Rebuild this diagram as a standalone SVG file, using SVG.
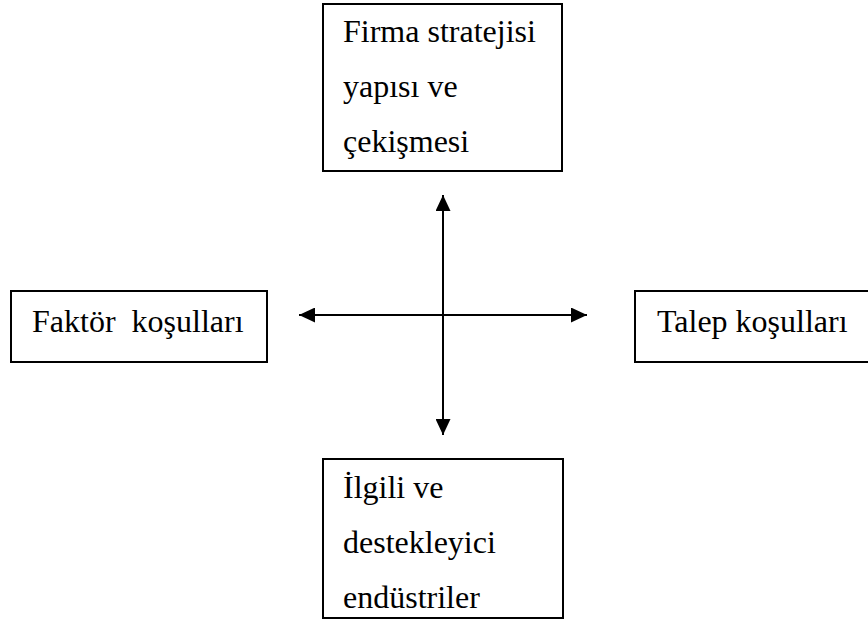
<svg xmlns="http://www.w3.org/2000/svg" width="868" height="630" viewBox="0 0 868 630">
<style>
.box{fill:#fff;stroke:#000;stroke-width:2}
.t{font-family:'Liberation Serif',serif;font-size:32px;fill:#000}
.c{stroke:#000;stroke-width:2;fill:none}
</style>
<defs>
<marker id="ah" viewBox="0 0 16 15" refX="16" refY="7.5" markerWidth="16" markerHeight="15" markerUnits="userSpaceOnUse" orient="auto">
<path d="M0,0 L16,7.5 L0,15 Z" fill="#000"/>
</marker>
</defs>
<rect width="868" height="630" fill="#fff"/>
<g id="top">
<rect class="box" x="323" y="4" width="239" height="167"/>
<text class="t" x="343" y="42">Firma stratejisi</text>
<text class="t" x="343" y="97">yapısı ve</text>
<text class="t" x="343" y="152">çekişmesi</text>
</g>
<g id="left">
<rect class="box" x="11" y="291" width="256" height="71"/>
<text class="t" x="32" y="332" xml:space="preserve">Faktör  koşulları</text>
</g>
<g id="right">
<rect class="box" x="635" y="291" width="240" height="71"/>
<text class="t" x="657" y="332">Talep koşulları</text>
</g>
<g id="bottom">
<rect class="box" x="323" y="459" width="240" height="159"/>
<text class="t" x="343" y="498">İlgili ve</text>
<text class="t" x="343" y="553">destekleyici</text>
<text class="t" x="343" y="608">endüstriler</text>
</g>
<g id="connectors">
<line class="c" x1="443" y1="315" x2="443" y2="195" marker-end="url(#ah)"/>
<line class="c" x1="443" y1="315" x2="443" y2="435" marker-end="url(#ah)"/>
<line class="c" x1="443" y1="315" x2="299" y2="315" marker-end="url(#ah)"/>
<line class="c" x1="443" y1="315" x2="587" y2="315" marker-end="url(#ah)"/>
</g>
</svg>
